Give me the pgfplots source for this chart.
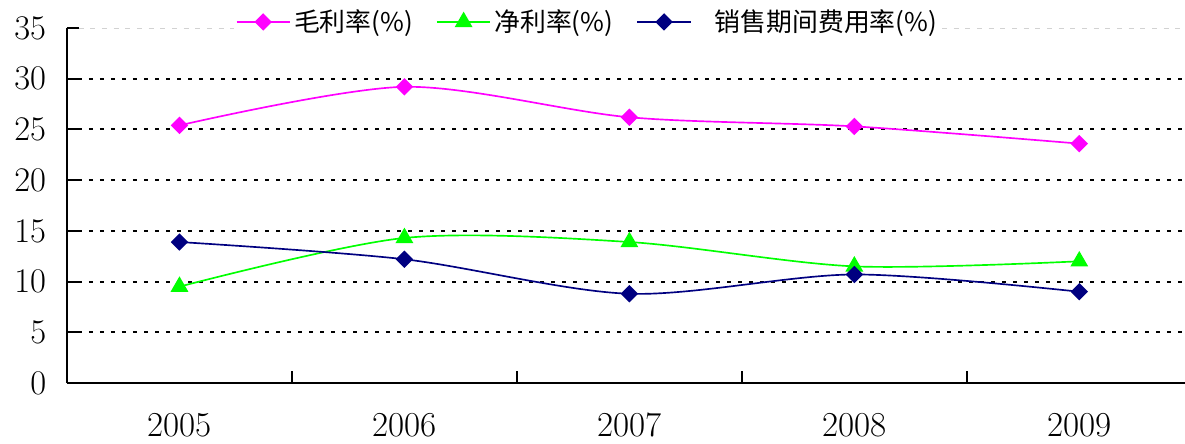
\documentclass[border=0pt]{standalone}
\usepackage{pgfplots}
\pgfplotsset{compat=1.18}
\usepackage{fontspec}
\newfontfamily\cjk{Noto Sans CJK SC}
\definecolor{gross}{RGB}{255,0,255}
\definecolor{net}{RGB}{0,255,0}
\definecolor{expense}{RGB}{0,0,128}

\begin{document}
\begin{tikzpicture}
\begin{axis}[
  scale only axis,
  width=670.8pt, height=213pt,
  xmin=-0.5, xmax=4.47,
  ymin=0, ymax=35,
  axis x line*=bottom, axis y line*=left,
  axis line style={line width=1.2pt, black},
  tick align=inside,
  major tick length=7pt,
  tick style={line width=1.2pt, black},
  xtick={0.5,1.5,2.5,3.5},
  xticklabels={},
  extra x ticks={0,1,2,3,4},
  extra x tick labels={2005,2006,2007,2008,2009},
  extra x tick style={major tick length=0pt},
  ytick={0,5,...,30},
  extra y ticks={35},
  extra y tick style={major grid style={gray!35, line width=0.6pt, dash pattern=on 3pt off 4pt}},
  ymajorgrids,
  major grid style={black, line width=1.2pt, dash pattern=on 2.2pt off 4.4pt},
  tick label style={font=\fontsize{21}{23}\selectfont},
  yticklabel style={xshift=-9pt},
  xticklabel style={yshift=-14.5pt},
  legend columns=3,
  legend style={at={(0.466,1.017)}, anchor=center, draw=none, fill=white,
    inner sep=1pt, font=\cjk\fontsize{15.5}{17}\selectfont,
    /tikz/every even column/.append style={column sep=12pt}},
  legend image code/.code={\draw[mark repeat=2, mark phase=2, #1]
    plot coordinates {(0pt,0pt) (16pt,0pt) (32pt,0pt)};},
]
% gross margin
\addplot[gross, line width=1pt, smooth, mark=square*, mark size=3.2pt,
  mark options={rotate=45, solid}]
  coordinates {(0,25.4) (1,29.2) (2,26.2) (3,25.3) (4,23.6)};
\addlegendentry{毛利率(\%)}
% net margin
\addplot[net, line width=1pt, smooth, mark=triangle*, mark size=5.2pt,
  mark options={solid}]
  coordinates {(0,9.5) (1,14.3) (2,13.9) (3,11.5) (4,12.0)};
\addlegendentry{净利率(\%)}
% selling and period expense ratio
\addplot[expense, line width=1pt, smooth, mark=square*, mark size=3.2pt,
  mark options={rotate=45, solid}]
  coordinates {(0,13.9) (1,12.2) (2,8.8) (3,10.7) (4,9.0)};
\addlegendentry{\hspace{12pt}销售期间费用率(\%)}
\end{axis}
\pgfresetboundingbox
\path[use as bounding box] (current axis.south west) ++(-40.2pt,-36pt) rectangle ++(711pt,265.8pt);
\end{tikzpicture}
\end{document}
